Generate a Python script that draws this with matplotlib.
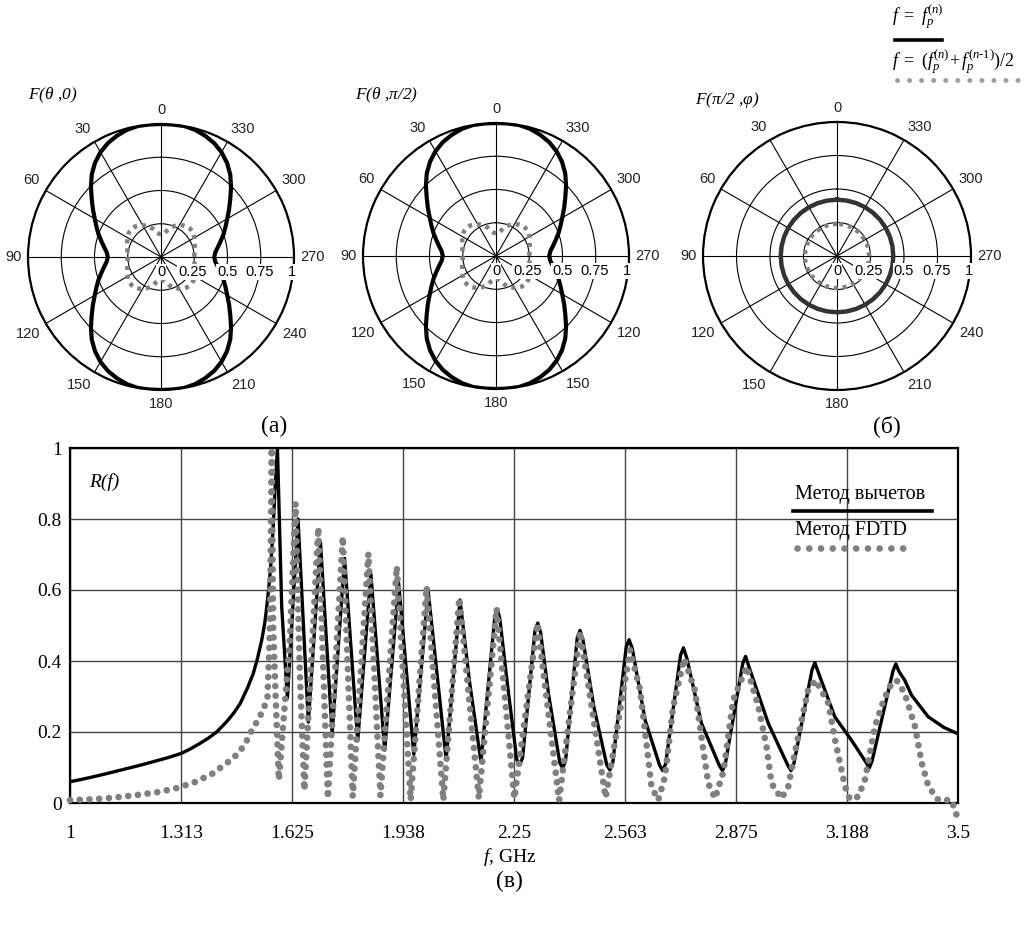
import numpy as np
import matplotlib.pyplot as plt
from matplotlib.lines import Line2D

plt.rcParams['mathtext.fontset'] = 'custom'
plt.rcParams['mathtext.rm'] = 'Liberation Serif'
plt.rcParams['mathtext.it'] = 'Liberation Serif:italic'

# --- radiation patterns, quarter (0..90 deg), the rest is symmetric ---
theta_q = [0, 5, 10, 15, 20, 25, 30, 35, 40, 45, 50, 55, 60, 65, 70, 75, 80, 85, 90]
F_res_q = [1.0, 1.0, 1.0, 0.99, 0.97, 0.945, 0.91, 0.865, 0.81, 0.745, 0.68,
           0.625, 0.575, 0.535, 0.5, 0.465, 0.435, 0.41, 0.4]
F_fdtd_q = [0.17, 0.175, 0.19, 0.215, 0.24, 0.26, 0.275, 0.29, 0.3, 0.305, 0.305,
            0.3, 0.29, 0.28, 0.27, 0.262, 0.256, 0.252, 0.25]

phi_deg = list(range(0, 361, 10))
F_phi_res = [0.42] * len(phi_deg)
F_phi_fdtd = [0.24] * len(phi_deg)

# --- reflection coefficient R(f) ---
f_res = [1.000, 1.030, 1.066, 1.100, 1.160, 1.200, 1.244, 1.280, 1.314, 1.340, 1.366,
         1.390, 1.413, 1.441, 1.460, 1.479, 1.500, 1.516, 1.528, 1.540, 1.548, 1.554,
         1.560, 1.565, 1.571, 1.577, 1.584, 1.596, 1.612, 1.642, 1.671, 1.705, 1.738,
         1.773, 1.810, 1.847, 1.886, 1.925, 1.968, 2.008, 2.059, 2.098, 2.125, 2.157,
         2.196, 2.203, 2.210, 2.232, 2.258, 2.266, 2.274, 2.309, 2.317, 2.325, 2.347,
         2.379, 2.387, 2.395, 2.428, 2.436, 2.444, 2.475, 2.511, 2.520, 2.528, 2.566,
         2.574, 2.583, 2.619, 2.660, 2.669, 2.677, 2.719, 2.727, 2.736, 2.778, 2.828,
         2.837, 2.845, 2.894, 2.902, 2.911, 2.966, 3.021, 3.030, 3.038, 3.089, 3.097,
         3.106, 3.153, 3.200, 3.242, 3.250, 3.258, 3.317, 3.325, 3.334, 3.350, 3.369,
         3.416, 3.460, 3.500]
R_res = [0.060, 0.066, 0.074, 0.082, 0.097, 0.107, 0.119, 0.129, 0.140, 0.153, 0.168,
         0.183, 0.200, 0.229, 0.252, 0.280, 0.325, 0.365, 0.408, 0.460, 0.505, 0.553,
         0.610, 0.666, 0.760, 0.880, 1.000, 0.553, 0.295, 0.800, 0.228, 0.736, 0.196,
         0.689, 0.175, 0.645, 0.149, 0.620, 0.137, 0.600, 0.123, 0.572, 0.340, 0.116,
         0.525, 0.546, 0.520, 0.330, 0.122, 0.107, 0.127, 0.485, 0.507, 0.480, 0.308,
         0.113, 0.098, 0.118, 0.465, 0.486, 0.460, 0.270, 0.108, 0.093, 0.113, 0.440,
         0.460, 0.435, 0.234, 0.106, 0.091, 0.111, 0.417, 0.437, 0.410, 0.224, 0.106,
         0.091, 0.111, 0.393, 0.413, 0.385, 0.224, 0.106, 0.091, 0.111, 0.375, 0.395,
         0.370, 0.243, 0.177, 0.113, 0.098, 0.118, 0.372, 0.392, 0.370, 0.346, 0.304,
         0.243, 0.213, 0.195]

f_fdtd = [1.000, 1.050, 1.100, 1.150, 1.200, 1.250, 1.300, 1.350, 1.400, 1.446, 1.474,
          1.494, 1.511, 1.530, 1.546, 1.556, 1.562, 1.565, 1.568, 1.572, 1.580, 1.588,
          1.619, 1.635, 1.647, 1.660, 1.699, 1.726, 1.768, 1.796, 1.840, 1.874, 1.920,
          1.959, 2.004, 2.051, 2.096, 2.151, 2.201, 2.251, 2.316, 2.377, 2.436, 2.508,
          2.577, 2.605, 2.624, 2.637, 2.656, 2.675, 2.698, 2.729, 2.759, 2.783, 2.797,
          2.816, 2.840, 2.867, 2.905, 2.938, 2.961, 2.975, 3.003, 3.022, 3.050, 3.078,
          3.099, 3.135, 3.154, 3.168, 3.182, 3.196, 3.219, 3.238, 3.266, 3.289, 3.308,
          3.327, 3.350, 3.379, 3.398, 3.417, 3.445, 3.482, 3.500]
R_fdtd = [0.008, 0.010, 0.013, 0.018, 0.024, 0.031, 0.042, 0.058, 0.082, 0.116, 0.140,
          0.168, 0.203, 0.235, 0.267, 0.300, 0.460, 0.700, 1.000, 0.497, 0.271, 0.065,
          0.459, 0.844, 0.365, 0.036, 0.776, 0.013, 0.750, 0.018, 0.703, 0.020, 0.666,
          0.008, 0.609, 0.008, 0.577, 0.013, 0.548, 0.013, 0.506, 0.007, 0.483, 0.015,
          0.431, 0.318, 0.159, 0.046, 0.008, 0.074, 0.271, 0.407, 0.318, 0.149, 0.055,
          0.013, 0.090, 0.290, 0.384, 0.271, 0.159, 0.055, 0.013, 0.046, 0.187, 0.318,
          0.346, 0.281, 0.177, 0.112, 0.046, 0.010, 0.018, 0.065, 0.215, 0.285, 0.328,
          0.346, 0.309, 0.215, 0.112, 0.046, 0.008, 0.008, -0.046]

angle_labels_a = ['0', '30', '60', '90', '120', '150', '180', '210', '240', '270', '300', '330']
angle_labels_b = ['0', '30', '60', '90', '120', '150', '180', '150', '120', '270', '300', '330']
r_labels = ['0', '0.25', '0.5', '0.75', '1']
f_ticks = [1, 1.313, 1.625, 1.938, 2.25, 2.563, 2.875, 3.188, 3.5]
f_tick_labels = ['1', '1.313', '1.625', '1.938', '2.25', '2.563', '2.875', '3.188', '3.5']
R_ticks = [0, 0.2, 0.4, 0.6, 0.8, 1]
R_tick_labels = ['0', '0.2', '0.4', '0.6', '0.8', '1']

W, H = 1027, 926
GRAY = '#808080'
SERIF = 'Liberation Serif'
SANS = 'Liberation Sans'


def fx(x):
    return x / W


def fy(y):
    return 1 - y / H


def full_pattern(th, r):
    # mirror the quarter into a full turn
    th = np.array(th, dtype=float)
    r = np.array(r, dtype=float)
    t = np.concatenate([th, 180 - th[::-1], 180 + th, 360 - th[::-1]])
    rr = np.concatenate([r, r[::-1], r, r[::-1]])
    return np.deg2rad(t), rr


def polar_panel(cx, cy, rad, labels):
    ax = fig.add_axes([fx(cx - rad), fy(cy + rad), 2 * rad / W, 2 * rad / H], projection='polar')
    ax.set_theta_zero_location('N')
    ax.set_theta_direction(1)
    ax.set_ylim(0, 1)
    ax.set_thetagrids(np.arange(0, 360, 30), [''] * 12)
    ax.set_rgrids([0.25, 0.5, 0.75, 1.0], [''] * 4)
    ax.grid(True, color='black', lw=0.8)
    ax.spines['polar'].set_linewidth(1.6)
    ax.tick_params(length=0, pad=0)
    for ang, lab in zip(range(0, 360, 30), labels):
        a = np.deg2rad(90 + ang)
        x, y = np.cos(a), np.sin(a)
        ha = 'center' if abs(x) < 0.1 else ('left' if x > 0 else 'right')
        va = 'center' if abs(y) < 0.1 else ('bottom' if y > 0 else 'top')
        ax.text(np.deg2rad(ang), 1.05, lab, ha=ha, va=va, fontsize=10.5,
                family=SANS, color='#222222')
    for rpos, lab in zip([0, 0.235, 0.5, 0.745, 0.985], r_labels):
        ax.annotate(lab, (np.deg2rad(270), rpos), xytext=(0, -11), textcoords='offset points',
                    ha='center', va='center', fontsize=10.5, family=SANS, zorder=5,
                    bbox=dict(facecolor='white', edgecolor='none', pad=0.6))
    return ax


fig = plt.figure(figsize=(W / 100, H / 100), dpi=100)

th, r1 = full_pattern(theta_q, F_res_q)
_, r2 = full_pattern(theta_q, F_fdtd_q)

ax1 = polar_panel(161, 257, 133, angle_labels_a)
ax1.plot(th, r1, color='black', lw=3)
ax1.plot(th, r2, color=GRAY, lw=3.2, linestyle=(0, (0.9, 1.1)))

ax2 = polar_panel(496, 256, 133, angle_labels_b)
ax2.plot(th, r1, color='black', lw=3)
ax2.plot(th, r2, color=GRAY, lw=3.2, linestyle=(0, (0.9, 1.1)))

ax3 = polar_panel(837, 256, 134, angle_labels_a)
ax3.plot(np.deg2rad(phi_deg), F_phi_res, color='#333333', lw=3.2)
ax3.plot(np.deg2rad(phi_deg), F_phi_fdtd, color=GRAY, lw=3.2, linestyle=(0, (0.9, 1.1)))

fig.text(fx(28), fy(95), r'F($\theta$ ,0)', fontsize=12.5, family=SERIF, style='italic', va='center')
fig.text(fx(355), fy(95), r'F($\theta$ ,$\pi$/2)', fontsize=12.5, family=SERIF, style='italic', va='center')
fig.text(fx(695), fy(100), r'F($\pi$/2 ,$\varphi$)', fontsize=12.5, family=SERIF, style='italic', va='center')

fig.text(fx(274), fy(426), '(a)', fontsize=17, family=SERIF, ha='center', va='center')
fig.text(fx(887), fy(426), '(б)', fontsize=17, family=SERIF, ha='center', va='center')
fig.text(fx(509), fy(881), '(в)', fontsize=17, family=SERIF, ha='center', va='center')

# top right legend
fig.text(fx(892), fy(17), r'$f\ =\ f_p^{(n)}$', fontsize=13, va='center')
fig.add_artist(Line2D([fx(895), fx(942)], [fy(40), fy(40)], color='black', lw=2.6))
fig.text(fx(892), fy(62), r'$f\ =\ (f_p^{(n)}\!+ f_p^{(n\text{-}1)})/2$', fontsize=13, va='center')
fig.add_artist(Line2D([fx(897), fx(1020)], [fy(80), fy(80)], color='#a0a0a0', lw=3.6,
                      linestyle=(0, (0.01, 2.4)), dash_capstyle='round'))

# reflection coefficient
ax = fig.add_axes([fx(70), fy(803), 888 / W, 355 / H])
ax.plot(f_res, R_res, color='black', lw=2.4, solid_joinstyle='round', zorder=3)
ax.plot(f_fdtd, R_fdtd, color=GRAY, lw=4.8, linestyle=(0, (0.01, 1.45)),
        dash_capstyle='round', clip_on=False, zorder=4)
ax.set_xlim(1, 3.5)
ax.set_ylim(0, 1)
ax.set_xticks(f_ticks)
ax.set_xticklabels(f_tick_labels, family=SERIF, fontsize=14)
ax.set_yticks(R_ticks)
ax.set_yticklabels(R_tick_labels, family=SERIF, fontsize=14)
ax.tick_params(axis='x', length=0, pad=16)
ax.tick_params(axis='y', length=0, pad=6)
ax.grid(True, color='#444444', lw=1.0)
for sp in ax.spines.values():
    sp.set_linewidth(1.6)

fig.text(fx(89), fy(482), 'R(f)', fontsize=14, family=SERIF, style='italic', va='center')
fig.text(fx(510), fy(857), r'$f$, GHz', fontsize=14, family=SERIF, ha='center', va='center')

fig.text(fx(795), fy(495), 'Метод вычетов', fontsize=14.5, family=SERIF, va='center')
fig.add_artist(Line2D([fx(793), fx(932)], [fy(511), fy(511)], color='black', lw=2.6))
fig.text(fx(795), fy(530), 'Метод FDTD', fontsize=14.5, family=SERIF, va='center')
fig.add_artist(Line2D([fx(797), fx(908)], [fy(548), fy(548)], color=GRAY, lw=4.8,
                      linestyle=(0, (0.01, 1.75)), dash_capstyle='round'))

fig.savefig('out.png', dpi=100)
